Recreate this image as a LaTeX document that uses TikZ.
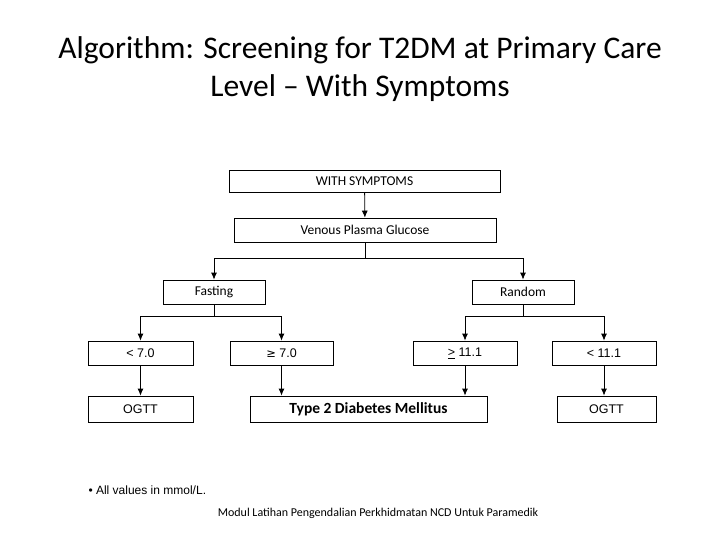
\documentclass[tikz,border=0pt]{standalone}
\usepackage{fontspec}
\setmainfont{Carlito}
\newfontfamily\arialfont{Liberation Sans}
\newfontfamily\symfont{DejaVu Sans}
\usetikzlibrary{arrows.meta}
\begin{document}
\begin{tikzpicture}[x=1pt, y=-1pt,
    boxStyle/.style={draw, thick, inner sep=0pt, font=\fontsize{13.5}{15}\selectfont},
    valStyle/.style={boxStyle, font=\arialfont\fontsize{12.5}{14}\selectfont},
    arrowStyle/.style={thick, -{Latex[length=7pt, width=6pt]}}]
    \useasboundingbox (0,0) rectangle (720,540);
    \node[align=center, font=\fontsize{31.5}{38}\selectfont] (title) at (360, 69) {Algorithm: Screening for T2DM at Primary Care\\Level -- With Symptoms};

    \node[boxStyle, minimum width=271pt, minimum height=22pt](sym) at (364.5, 181) {WITH SYMPTOMS};
    \node[boxStyle, minimum width=262pt, minimum height=24pt](vpg) at (365, 230) {Venous Plasma Glucose};
    \node[boxStyle, minimum width=102pt, minimum height=24pt](fast) at (214, 292) {Fasting};
    \node[boxStyle, minimum width=102pt, minimum height=24pt](rand) at (523, 292) {Random};
    \node[valStyle, minimum width=105pt, minimum height=24pt](f1) at (140.5, 353) {\textless{} 7.0};
    \node[valStyle, minimum width=103pt, minimum height=24pt](f2) at (281.5, 353) {{\symfont\fontsize{11.5}{14}\selectfont ≥} 7.0};
    \node[valStyle, minimum width=104pt, minimum height=24pt](r1) at (465, 353) {\underline{\textgreater} 11.1};
    \node[valStyle, minimum width=104pt, minimum height=24pt](r2) at (604, 353) {\textless{} 11.1};
    \node[valStyle, minimum width=105pt, minimum height=26pt](ogtt1) at (140.5, 409) {OGTT};
    \node[boxStyle, minimum width=237pt, minimum height=26pt, font=\bfseries\fontsize{15.5}{17}\selectfont](t2dm) at (368.5, 409) {Type 2 Diabetes Mellitus};
    \node[valStyle, minimum width=99pt, minimum height=26pt](ogtt2) at (606.5, 409) {OGTT};

    \coordinate (vj) at (365, 258);
    \coordinate (fj) at (214, 316);
    \coordinate (rj) at (523, 316);

    \draw[arrowStyle] (sym) -- (vpg);
    \draw[thick] (vpg) -- (vj);
    \draw[arrowStyle] (vj) -| (fast);
    \draw[arrowStyle] (vj) -| (rand);
    \draw[thick] (fast) -- (fj);
    \draw[arrowStyle] (fj) -| (f1);
    \draw[arrowStyle] (fj) -| (f2);
    \draw[thick] (rand) -- (rj);
    \draw[arrowStyle] (rj) -| (r1);
    \draw[arrowStyle] (rj) -| (r2);
    \draw[arrowStyle] (f1) -- (ogtt1);
    \draw[arrowStyle] (f2.south) -- (f2.south |- t2dm.north);
    \draw[arrowStyle] (r1.south) -- (r1.south |- t2dm.north);
    \draw[arrowStyle] (r2.south) -- (r2.south |- ogtt2.north);

    \node[anchor=west, font=\arialfont\fontsize{12}{14}\selectfont](note) at (85, 490) {\textbullet{} All values in mmol/L.};
    \node[font=\fontsize{12}{14}\selectfont](foot) at (378, 513) {Modul Latihan Pengendalian Perkhidmatan NCD Untuk Paramedik};
\end{tikzpicture}
\end{document}
